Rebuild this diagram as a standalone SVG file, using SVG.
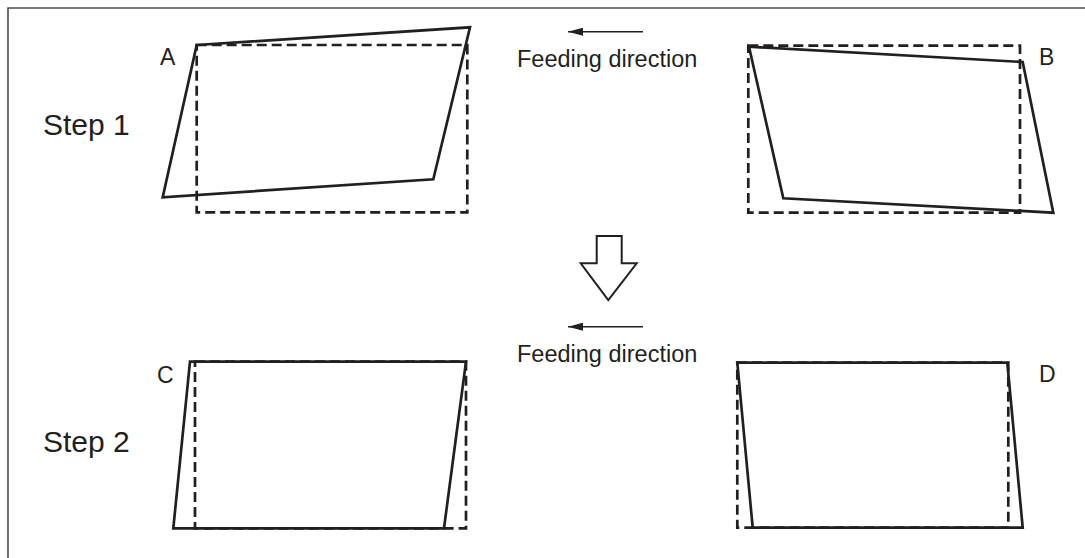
<svg xmlns="http://www.w3.org/2000/svg" width="1085" height="558" viewBox="0 0 1085 558">
<style>
.txt{font-family:"Liberation Sans",Arial,sans-serif;fill:#231f20}
.solid{fill:none;stroke:#231f20;stroke-width:2.7;stroke-linejoin:miter}
.dash{fill:none;stroke:#231f20;stroke-width:2.7;stroke-dasharray:10 5}
.frame{stroke:#4d4d4d;stroke-width:1.6;fill:none}
.feed{stroke:#231f20;stroke-width:1.6;fill:none}
</style>
<defs>
<marker id="ah" viewBox="0 0 15 8" refX="15" refY="4" markerWidth="15" markerHeight="8" markerUnits="userSpaceOnUse" orient="auto">
<path d="M0,0 L15,4 L0,8 Z" fill="#231f20"/>
</marker>
</defs>
<rect width="1085" height="558" fill="#fff"/>
<path class="frame" d="M8,558 V8 H1085"/>
<g id="labels">
<text class="txt" x="43" y="135" font-size="30">Step 1</text>
<text class="txt" x="43" y="452" font-size="30">Step 2</text>
</g>
<g id="nodeA">
<rect class="dash" x="196.7" y="45" width="270.6" height="167.3"/>
<polygon class="solid" points="196.7,45 470,27.3 433.3,179.3 162.7,197.3"/>
<text class="txt" x="160" y="65" font-size="23">A</text>
</g>
<g id="nodeB">
<rect class="dash" x="748.3" y="45.7" width="271.7" height="167"/>
<polygon class="solid" points="749,46.7 1022.7,62 1053.3,212.7 783.3,198.3"/>
<text class="txt" x="1039" y="65" font-size="23">B</text>
</g>
<g id="nodeC">
<rect class="dash" x="195" y="361.7" width="271" height="166.6"/>
<polygon class="solid" points="190,361.7 466,361.7 444,528.3 173.3,528.3"/>
<text class="txt" x="157" y="383" font-size="23">C</text>
</g>
<g id="nodeD">
<rect class="dash" x="737.3" y="362.7" width="271" height="165"/>
<polygon class="solid" points="737.3,362.7 1007.3,362.7 1022.7,527.7 752.7,527.7"/>
<text class="txt" x="1039" y="382" font-size="23">D</text>
</g>
<g id="feed1">
<line class="feed" x1="643" y1="31.7" x2="568" y2="31.7" marker-end="url(#ah)"/>
<text class="txt" x="517" y="66.7" font-size="23.5">Feeding direction</text>
</g>
<g id="feed2">
<line class="feed" x1="643" y1="326.7" x2="568" y2="326.7" marker-end="url(#ah)"/>
<text class="txt" x="517" y="361.7" font-size="23.5">Feeding direction</text>
</g>
<g id="connectors">
<polygon points="596.7,236 621.7,236 621.7,263.3 636.7,263.3 608.3,300 580.7,263.3 596.7,263.3" fill="#fff" stroke="#231f20" stroke-width="2" stroke-linejoin="miter"/>
</g>
</svg>
